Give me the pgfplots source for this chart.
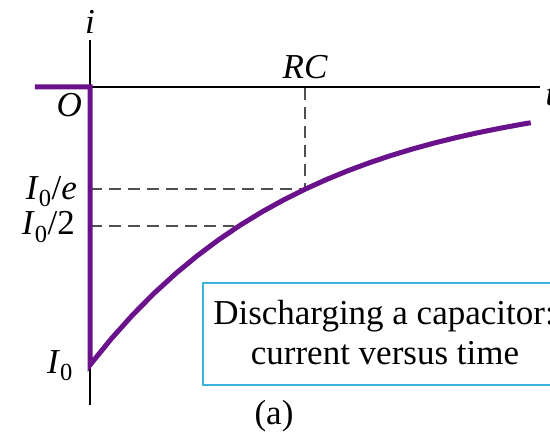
\documentclass[border=0pt]{standalone}
\usepackage{pgfplots}
\pgfplotsset{compat=1.18}
\usepackage{fontspec}
\setmainfont{Liberation Serif}
\definecolor{curvepurple}{HTML}{6A128C}
\definecolor{boxcyan}{HTML}{3DB3DC}
\definecolor{dashgray}{HTML}{505050}
\newcommand{\lbl}{\fontsize{35}{42}\selectfont}
\begin{document}
\begin{tikzpicture}
\useasboundingbox (0pt,0pt) rectangle (550pt,441pt);
\clip (0pt,0pt) rectangle (550pt,441pt);
\begin{axis}[
  at={(90pt,36pt)}, anchor=south west,
  x=215pt, y=278pt,
  xmin=0, xmax=2.093, ymin=-1.144, ymax=0.169,
  axis lines=middle,
  axis line style={-, line width=1.8pt, black},
  ticks=none, clip=false,
]
% reference levels I0/e at t = RC and I0/2
\addplot[dashgray, line width=2.2pt, dash pattern=on 12pt off 7pt]
  coordinates {(0,-0.3679) (1,-0.3679) (1,0)};
\addplot[dashgray, line width=2.2pt, dash pattern=on 12pt off 7pt]
  coordinates {(0,-0.5) (0.67,-0.5)};
% discharge current, t in units of RC, i in units of I0
\addplot[curvepurple, line width=5pt, line join=miter]
  coordinates {
  (-0.256,0) (0,0) (0,-1)
  (0.1,-0.9048) (0.2,-0.8187) (0.3,-0.7408) (0.4,-0.6703) (0.5,-0.6065)
  (0.6,-0.5488) (0.7,-0.4966) (0.8,-0.4493) (0.9,-0.4066) (1.0,-0.3679)
  (1.1,-0.3329) (1.2,-0.3012) (1.3,-0.2725) (1.4,-0.2466) (1.5,-0.2231)
  (1.6,-0.2019) (1.7,-0.1827) (1.8,-0.1653) (1.9,-0.1496) (2.0,-0.1353)
  (2.05,-0.1287)};
\node[anchor=base] at (axis cs:0,0.194) {\lbl\itshape i};
\node[anchor=base west, inner sep=0pt] at (axis cs:2.118,-0.065) {\lbl\itshape t};
\node[anchor=base east, inner sep=0pt] at (axis cs:-0.037,-0.108) {\lbl\itshape O};
\node[anchor=base] at (axis cs:1,0.029) {\lbl\itshape RC};
\node[anchor=base east, inner sep=0pt] at (axis cs:-0.060,-0.404) {\lbl\textit{I}\textsubscript{0}/\textit{e}};
\node[anchor=base east, inner sep=0pt] at (axis cs:-0.070,-0.532) {\lbl\textit{I}\textsubscript{0}/2};
\node[anchor=base east, inner sep=0pt] at (axis cs:-0.079,-1.029) {\lbl\textit{I}\textsubscript{0}};
\end{axis}
\draw[boxcyan, line width=1.6pt, fill=white] (203pt,158pt) rectangle (620pt,56pt);
\node[anchor=base, inner sep=0pt] at (384pt,116pt) {\lbl Discharging a capacitor:};
\node[anchor=base, inner sep=0pt] at (385pt,76pt) {\lbl current versus time};
\node[anchor=base, inner sep=0pt] at (274pt,16pt) {\lbl (a)};
\end{tikzpicture}
\end{document}
